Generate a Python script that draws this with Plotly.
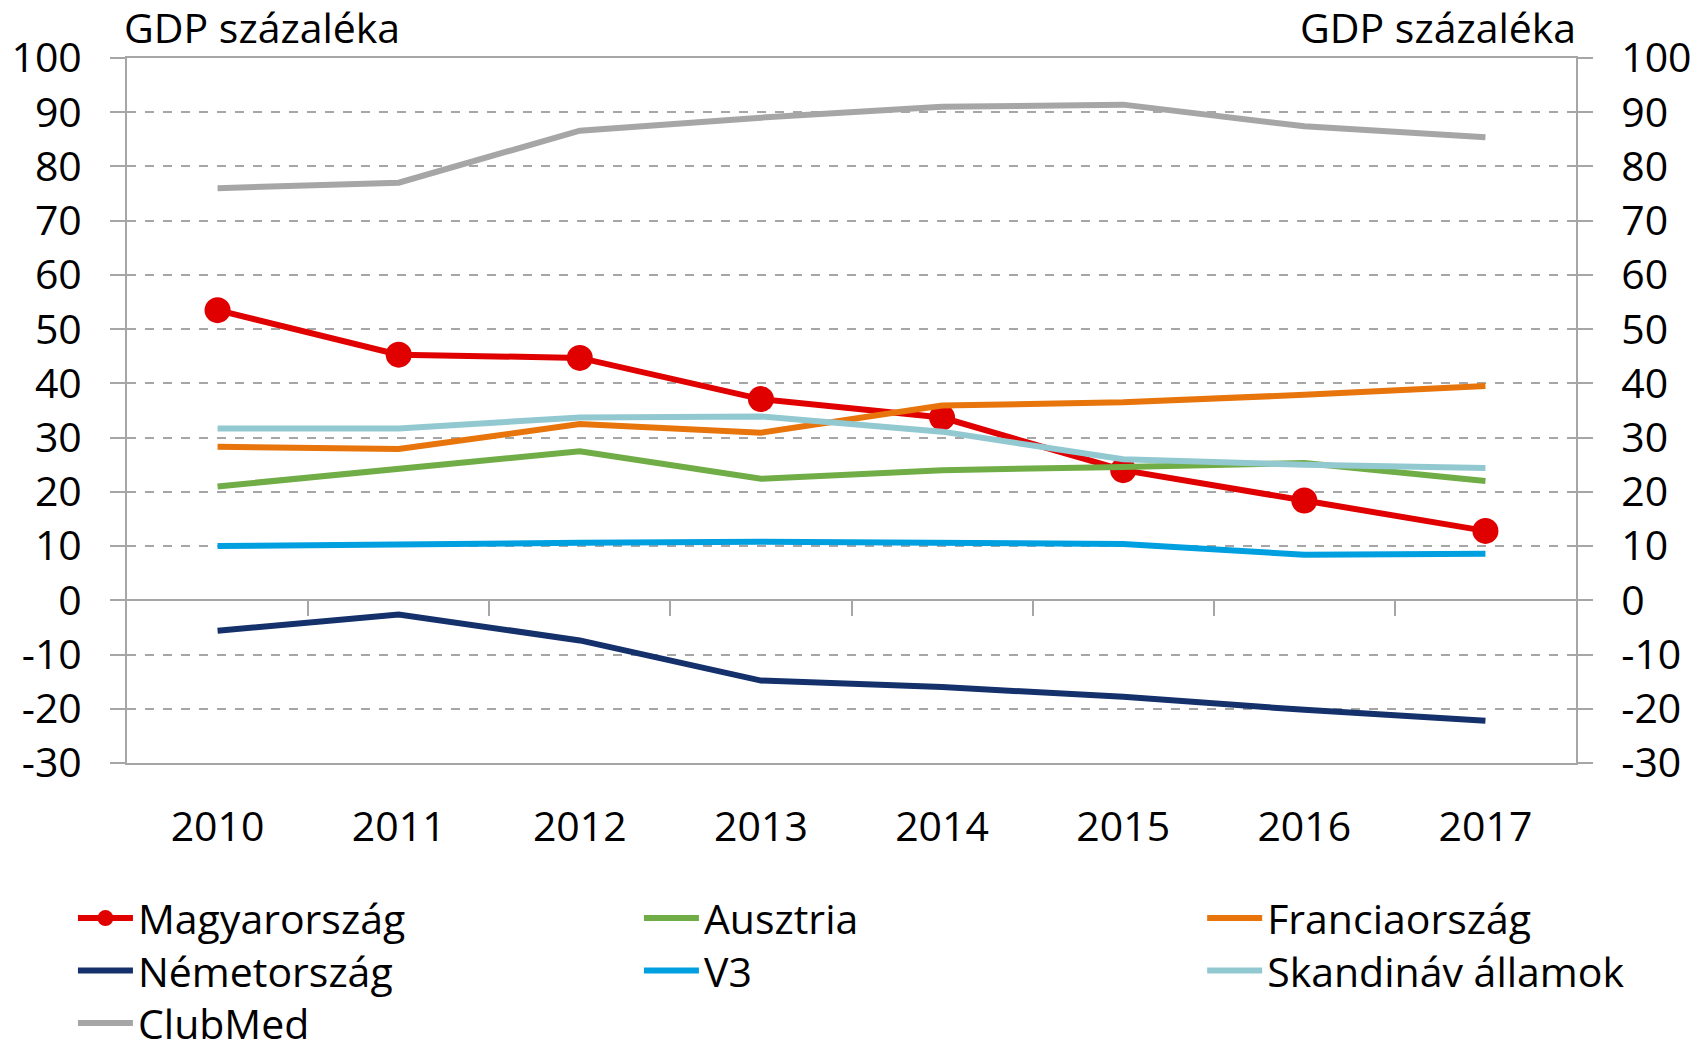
import plotly.graph_objects as go

years = ["2010", "2011", "2012", "2013", "2014", "2015", "2016", "2017"]
magyar = [53.5, 45.3, 44.7, 37.1, 33.7, 24.0, 18.4, 12.8]
ausztria = [21.0, 24.2, 27.5, 22.4, 24.0, 24.6, 25.3, 22.0]
francia = [28.3, 27.9, 32.5, 30.9, 35.9, 36.5, 37.9, 39.5]
nemet = [-5.6, -2.6, -7.4, -14.8, -16.0, -17.8, -20.2, -22.2]
v3 = [10.0, 10.4, 10.6, 10.8, 10.6, 10.4, 8.4, 8.6]
skandinav = [31.7, 31.7, 33.7, 33.9, 31.1, 26.0, 25.0, 24.4]
clubmed = [76.0, 77.0, 86.6, 89.0, 91.0, 91.4, 87.4, 85.4]

y_ticks = list(range(-30, 101, 10))
y_ticktext = [str(v) for v in y_ticks]
title_text = "GDP százaléka"

FONT = "Open Sans"
FS = 41
GRID = "#A6A6A6"

# name, values, colour, markers, legend column, legend row
series = [
    ("Magyarország", magyar, "#E00000", True, 0, 0),
    ("Ausztria", ausztria, "#70AD47", False, 1, 0),
    ("Franciaország", francia, "#E8740C", False, 2, 0),
    ("Németország", nemet, "#14316B", False, 0, 1),
    ("V3", v3, "#00A0E0", False, 1, 1),
    ("Skandináv államok", skandinav, "#92C9D1", False, 2, 1),
    ("ClubMed", clubmed, "#A6A6A6", False, 0, 2),
]

# page layout (figure is drawn at an 8px body offset)
W, H = 1698, 1034
ML, MR, MT, MB = 119, 130, 50, 278.5
PW = W - ML - MR
PH = H - MT - MB
leg_col_x = [-0.0373, 0.3533, 0.742]          # paper x of each legend column
leg_row_px = [155.5, 208, 260.5]              # px below plot bottom (row centre)

axis_font = dict(family=FONT, size=FS, color="black")

fig = go.Figure()
legends = {}
for i, (name, vals, col, mk, c, r) in enumerate(series):
    key = "legend" if i == 0 else f"legend{i + 1}"
    fig.add_trace(go.Scatter(
        x=years, y=vals, name=name, legend=key,
        mode="lines+markers" if mk else "lines",
        line=dict(color=col, width=6),
        marker=dict(size=26, color=col) if mk else None,
    ))
    legends[key] = dict(
        x=leg_col_x[c], y=-leg_row_px[r] / PH, xanchor="left", yanchor="middle",
        font=axis_font, itemwidth=55, tracegroupgap=0,
        bgcolor="rgba(0,0,0,0)", orientation="v",
    )

# empty helper traces so the secondary axes (right y axis, category boundary ticks) are drawn
fig.add_trace(go.Scatter(x=[], y=[], xaxis="x", yaxis="y2", showlegend=False, hoverinfo="skip"))
fig.add_trace(go.Scatter(x=[], y=[], xaxis="x2", yaxis="y", showlegend=False, hoverinfo="skip"))

fig.update_layout(
    width=W, height=H,
    margin=dict(l=ML, r=MR, t=MT, b=MB, autoexpand=False),
    paper_bgcolor="white", plot_bgcolor="white",
    font=axis_font,
    xaxis=dict(
        type="category", categoryorder="array", categoryarray=years,
        range=[-0.5, 7.5], showgrid=False, showline=True, linecolor=GRID,
        linewidth=2, mirror=True, ticks="", ticklabelstandoff=27,
        tickfont=axis_font, zeroline=False, automargin=False,
    ),
    xaxis2=dict(
        overlaying="x", anchor="free", position=30 / 130,
        range=[-0.5, 7.5], tickmode="array",
        tickvals=[i + 0.5 for i in range(len(years) - 1)],
        ticks="outside", ticklen=15, tickwidth=2, tickcolor=GRID,
        showticklabels=False, showgrid=False, showline=False, zeroline=False,
        automargin=False,
    ),
    yaxis=dict(
        range=[-30, 100], tickmode="array", tickvals=y_ticks, ticktext=y_ticktext,
        showgrid=True, gridcolor=GRID,
        griddash="dash", gridwidth=2, zeroline=True, zerolinecolor=GRID,
        zerolinewidth=2, showline=True, linecolor=GRID, linewidth=2,
        ticks="outside", ticklen=15, tickwidth=2, tickcolor=GRID,
        ticklabelstandoff=20, tickfont=axis_font, automargin=False,
    ),
    yaxis2=dict(
        overlaying="y", side="right", range=[-30, 100], tickmode="array",
        tickvals=y_ticks, ticktext=y_ticktext,
        showgrid=False, zeroline=False, showline=True, linecolor=GRID,
        linewidth=2, ticks="outside", ticklen=15, tickwidth=2, tickcolor=GRID,
        ticklabelstandoff=20, tickfont=axis_font, automargin=False,
    ),
    showlegend=True,
    annotations=[
        dict(text=title_text, xref="paper", yref="paper", x=0, y=1,
             xanchor="left", yanchor="bottom", showarrow=False,
             font=axis_font, yshift=1, xshift=-5),
        dict(text=title_text, xref="paper", yref="paper", x=1, y=1,
             xanchor="right", yanchor="bottom", showarrow=False,
             font=axis_font, yshift=1, xshift=2),
    ],
)
fig.update_layout(**legends)

fig.write_html("out.html")
